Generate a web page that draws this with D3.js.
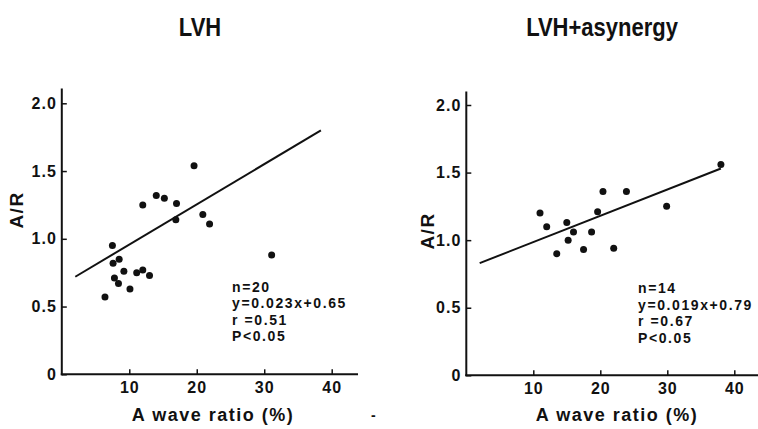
<!DOCTYPE html>
<html>
<head>
<meta charset="utf-8">
<script src="https://cdn.jsdelivr.net/npm/d3@7"></script>
<style>
  body { margin: 0; background: #fff; }
  text { font-family: "Liberation Sans", Arial, sans-serif; font-weight: bold; fill: #111; }
</style>
</head>
<body>
<script>
// LVH panel (x = A wave ratio %, y = A/R)
const lvhX = [19.6, 14.0, 15.2, 12.0, 17.0, 16.9, 20.9, 21.9, 7.5, 8.5, 7.6, 9.2, 12.0, 11.1, 13.0, 7.8, 8.4, 10.1, 6.4, 31.1];
const lvhY = [1.54, 1.32, 1.30, 1.25, 1.26, 1.14, 1.18, 1.11, 0.95, 0.85, 0.82, 0.76, 0.77, 0.75, 0.73, 0.71, 0.67, 0.63, 0.57, 0.88];
const lvhLineX = [2.0, 38.4];
const lvhLineY = [0.72, 1.80];
const lvhStats = ["n=20", "y=0.023x+0.65", "r =0.51", "P<0.05"];

// LVH + asynergy panel
const asyX = [11.0, 12.0, 15.0, 16.0, 15.2, 13.5, 17.5, 18.7, 19.6, 20.4, 23.9, 22.0, 29.9, 38.0];
const asyY = [1.20, 1.10, 1.13, 1.06, 1.00, 0.90, 0.93, 1.06, 1.21, 1.36, 1.36, 0.94, 1.25, 1.56];
const asyLineX = [2.0, 38.0];
const asyLineY = [0.83, 1.53];
const asyStats = ["n=14", "y=0.019x+0.79", "r =0.67", "P<0.05"];

const xTicks = [10, 20, 30, 40];
const yTicks = [0, 0.5, 1.0, 1.5, 2.0];
const titles = ["LVH", "LVH+asynergy"];
const xLabel = "A wave ratio (%)";
const yLabel = "A/R";

const width = 758, height = 429;

const svg = d3.select("body").append("svg")
    .attr("width", width)
    .attr("height", height);

// layout for each panel
const panels = [
  { title: titles[0], xs: lvhX, ys: lvhY, lx: lvhLineX, ly: lvhLineY, stats: lvhStats,
    xr: [61.8, 331.7], yr: [374.3, 103.3], xEnd: 43.9, yEnd: 2.11,
    titleX: 200, statsX: 232, statsY: 291.5, yLabX: 23, yLabY: 210, xLabX: 213 },
  { title: titles[1], xs: asyX, ys: asyY, lx: asyLineX, ly: asyLineY, stats: asyStats,
    xr: [466.3, 734.3], yr: [375.3, 105], xEnd: 43.6, yEnd: 2.10,
    titleX: 602, statsX: 638, statsY: 293, yLabX: 434, yLabY: 231, xLabX: 617 }
];

panels.forEach(p => {
  const x = d3.scaleLinear().domain([0, 40]).range(p.xr);
  const y = d3.scaleLinear().domain([0, 2]).range(p.yr);
  const g = svg.append("g");

  // axis lines
  g.append("line")
    .attr("x1", x(0)).attr("x2", x(0))
    .attr("y1", y(0) + 1).attr("y2", y(p.yEnd))
    .attr("stroke", "#111").attr("stroke-width", 2);
  g.append("line")
    .attr("x1", x(0) - 1).attr("x2", x(p.xEnd))
    .attr("y1", y(0)).attr("y2", y(0))
    .attr("stroke", "#111").attr("stroke-width", 2);

  // ticks (inward)
  const yAxis = g.append("g")
    .attr("transform", `translate(${x(0)},0)`)
    .call(d3.axisLeft(y).tickValues(yTicks).tickSize(-5).tickPadding(5)
      .tickFormat(d => d === 0 ? "0" : d.toFixed(1)));
  yAxis.select(".domain").remove();
  yAxis.selectAll("line").attr("stroke", "#111").attr("stroke-width", 1.5);
  yAxis.selectAll("text").attr("font-size", 16).attr("letter-spacing", 1)
    .attr("font-family", "Liberation Sans, Arial, sans-serif").attr("font-weight", "bold").attr("fill", "#111");

  const xAxis = g.append("g")
    .attr("transform", `translate(0,${y(0)})`)
    .call(d3.axisBottom(x).tickValues(xTicks).tickSize(-5).tickPadding(7));
  xAxis.select(".domain").remove();
  xAxis.selectAll("line").attr("stroke", "#111").attr("stroke-width", 1.5);
  xAxis.selectAll("text").attr("font-size", 16).attr("letter-spacing", 1)
    .attr("font-family", "Liberation Sans, Arial, sans-serif").attr("font-weight", "bold").attr("fill", "#111");

  // regression line
  const line = d3.line().x(d => x(d[0])).y(d => y(d[1]));
  g.append("path")
    .datum(d3.zip(p.lx, p.ly))
    .attr("d", line)
    .attr("fill", "none")
    .attr("stroke", "#111")
    .attr("stroke-width", 2);

  // points
  g.selectAll("circle")
    .data(d3.zip(p.xs, p.ys))
    .join("circle")
    .attr("cx", d => x(d[0]))
    .attr("cy", d => y(d[1]))
    .attr("r", 3.5)
    .attr("fill", "#111");

  // stats
  g.selectAll(".stat")
    .data(p.stats)
    .join("text")
    .attr("class", "stat")
    .attr("x", p.statsX)
    .attr("y", (d, i) => p.statsY + i * 16.6)
    .attr("font-size", 14)
    .attr("letter-spacing", 1.6)
    .text(d => d);

  // labels (title set in a condensed bold face)
  g.append("text")
    .attr("transform", `translate(${p.titleX},36) scale(0.88,1)`)
    .attr("text-anchor", "middle")
    .attr("font-size", 25)
    .text(p.title);

  g.append("text")
    .attr("x", p.xLabX).attr("y", 421)
    .attr("text-anchor", "middle")
    .attr("font-size", 18)
    .attr("letter-spacing", 1.5)
    .text(xLabel);

  g.append("text")
    .attr("transform", `translate(${p.yLabX},${p.yLabY}) rotate(-90)`)
    .attr("text-anchor", "middle")
    .attr("font-size", 19)
    .attr("letter-spacing", 1.5)
    .text(yLabel);
});

// stray mark from the scan
svg.append("text")
  .attr("x", 371).attr("y", 420)
  .attr("font-size", 14)
  .text("-");
</script>
</body>
</html>
